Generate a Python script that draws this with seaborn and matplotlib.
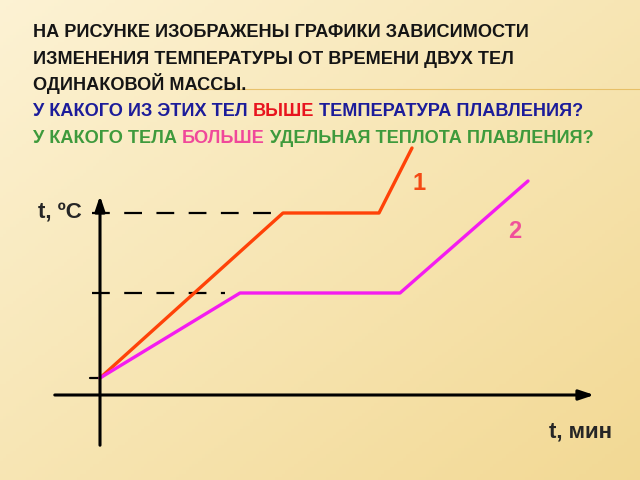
import numpy as np
import matplotlib.pyplot as plt
import seaborn as sns
import pandas as pd
from matplotlib.lines import Line2D

# body 1 and body 2: time (min), temperature
time1 = [0, 18.3, 27.9, 31.2]
temp1 = [17, 182, 182, 247]
time2 = [0, 14, 30, 42.8]
temp2 = [17, 102, 102, 214]

title_lines = [
    [("НА РИСУНКЕ ИЗОБРАЖЕНЫ ГРАФИКИ ЗАВИСИМОСТИ", "#151515")],
    [("ИЗМЕНЕНИЯ ТЕМПЕРАТУРЫ ОТ ВРЕМЕНИ ДВУХ ТЕЛ", "#151515")],
    [("ОДИНАКОВОЙ МАССЫ.", "#151515")],
    [("У КАКОГО ИЗ ЭТИХ ТЕЛ ", "#1c1c9a"), ("ВЫШЕ", "#e8141e"),
     (" ТЕМПЕРАТУРА ПЛАВЛЕНИЯ?", "#1c1c9a")],
    [("У КАКОГО ТЕЛА ", "#3e9a3c"), ("БОЛЬШЕ", "#f0489a"),
     (" УДЕЛЬНАЯ ТЕПЛОТА ПЛАВЛЕНИЯ?", "#3e9a3c")],
]

sns.set_style("white")
plt.rcParams["font.family"] = ["Liberation Sans", "DejaVu Sans"]

fig = plt.figure(figsize=(6.4, 4.8), dpi=100)

# slide background
bg = fig.add_axes([0, 0, 1, 1], zorder=0)
gx, gy = np.meshgrid(np.linspace(0, 1, 200), np.linspace(0, 1, 150))
g = 0.5 * gx + 0.5 * gy
c0 = np.array([0.99, 0.95, 0.83])
c1 = np.array([0.95, 0.85, 0.58])
img = c0 + (c1 - c0) * g[..., None]
bg.imshow(img, aspect="auto", extent=[0, 1, 0, 1], origin="upper")
bg.axis("off")
fig.add_artist(Line2D([0.30, 1.0], [0.815, 0.815], color="#e2b24a", lw=0.8, alpha=0.7))

ax = fig.add_axes([0, 0, 1, 1], zorder=1)
ax.patch.set_alpha(0)
ax.set_xlim(-10, 54)
ax.set_ylim(-85, 395)
ax.axis("off")

# axes with arrows
ax.annotate("", xy=(49.7, 0), xytext=(-4.8, 0),
            arrowprops=dict(arrowstyle="-|>,head_length=0.9,head_width=0.3", color="black", lw=2.2))
ax.annotate("", xy=(0, 202), xytext=(0, -53),
            arrowprops=dict(arrowstyle="-|>,head_length=0.9,head_width=0.3", color="black", lw=2.2))

# dashed melting levels and initial tick
dash_kw = dict(color="black", lw=1.6, linestyle=(0, (8, 6.5)))
ax.plot([-0.8, time1[1] - 1.1], [temp1[1], temp1[1]], **dash_kw)
ax.plot([-0.8, time2[1] - 1.5], [temp2[1], temp2[1]], **dash_kw)
ax.plot([-1.0, 0], [temp1[0], temp1[0]], color="black", lw=1.6)

df = pd.concat([
    pd.DataFrame({"t": time1, "T": temp1, "body": "1"}),
    pd.DataFrame({"t": time2, "T": temp2, "body": "2"}),
])
sns.lineplot(data=df, x="t", y="T", hue="body", sort=False, estimator=None,
             palette={"1": "#ff4208", "2": "#f41cf0"}, lw=2.4, legend=False, ax=ax)

ax.text(31.9, 212, "1", color="#f44a14", fontsize=17, fontweight="bold", ha="center", va="center")
ax.text(41.5, 163, "2", color="#f0509a", fontsize=17, fontweight="bold", ha="center", va="center")
ax.text(-1.8, 182, "t, ºC", fontsize=16, fontweight="bold", ha="right", va="center")
ax.text(51.2, -37, "t, мин", fontsize=16, fontweight="bold", ha="right", va="center")

# title block, coloured words placed one after another
fig.canvas.draw()
renderer = fig.canvas.get_renderer()
base_y = 480 - 37
step = 26.5
for i, parts in enumerate(title_lines):
    x = 33
    for txt, col in parts:
        t = fig.text(x / 640, (base_y - i * step) / 480, txt, color=col, fontsize=13.1,
                     fontweight="bold", va="baseline")
        x = t.get_window_extent(renderer).x1

fig.savefig("out.png", dpi=100)
